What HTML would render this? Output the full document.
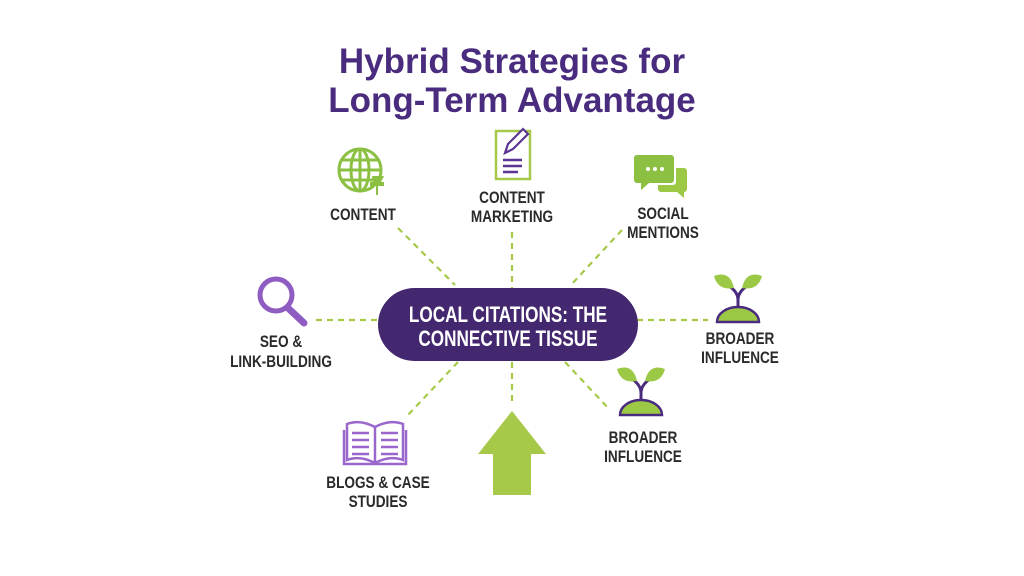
<!DOCTYPE html>
<html><head><meta charset="utf-8"><style>
body{margin:0;width:1024px;height:576px;background:#fff;overflow:hidden;font-family:"Liberation Sans",sans-serif}
svg{position:absolute;left:0;top:0}
</style></head><body>
<svg width="1024" height="576" viewBox="0 0 1024 576">
<g font-family="Liberation Sans, sans-serif" font-weight="bold" fill="#4a2c7e" font-size="35" text-anchor="middle">
<text x="512" y="73">Hybrid Strategies for</text>
<text x="512" y="112">Long-Term Advantage</text>
</g>
<g stroke="#a6c94a" stroke-width="2.2" stroke-dasharray="6,5" fill="none">
<line x1="398" y1="228" x2="455" y2="285"/>
<line x1="512" y1="232" x2="512" y2="288"/>
<line x1="622" y1="230" x2="570" y2="286"/>
<line x1="316" y1="320" x2="378" y2="320"/>
<line x1="637" y1="320" x2="708" y2="320"/>
<line x1="458" y1="362" x2="406" y2="417"/>
<line x1="512" y1="362" x2="512" y2="402"/>
<line x1="565" y1="362" x2="610" y2="410"/>
</g>
<rect x="378" y="288" width="260" height="73" rx="36.5" fill="#44286f"/>
<g fill="#fff" font-family="Liberation Sans, sans-serif" font-weight="bold" font-size="22" text-anchor="middle">
<text transform="translate(508 322) scale(.78 1)">LOCAL CITATIONS: THE</text>
<text transform="translate(508 346) scale(.78 1)">CONNECTIVE TISSUE</text>
</g>
<g fill="#2a2a2a" font-family="Liberation Sans, sans-serif" font-weight="bold" font-size="17" text-anchor="middle">
<text transform="translate(363 220) scale(.8 1)">CONTENT</text>
<text transform="translate(512 203) scale(.8 1)">CONTENT</text><text transform="translate(512 222) scale(.8 1)">MARKETING</text>
<text transform="translate(663 219) scale(.8 1)">SOCIAL</text><text transform="translate(663 238) scale(.8 1)">MENTIONS</text>
<text transform="translate(281 347) scale(.8 1)">SEO &amp;</text><text transform="translate(281 367) scale(.8 1)">LINK-BUILDING</text>
<text transform="translate(740 344) scale(.8 1)">BROADER</text><text transform="translate(740 363) scale(.8 1)">INFLUENCE</text>
<text transform="translate(643 443) scale(.8 1)">BROADER</text><text transform="translate(643 462) scale(.8 1)">INFLUENCE</text>
<text transform="translate(378 488) scale(.8 1)">BLOGS &amp; CASE</text><text transform="translate(378 507) scale(.8 1)">STUDIES</text>
</g>
<!-- globe -->
<g stroke="#8cc043" stroke-width="3" fill="none">
<circle cx="360" cy="170" r="21"/>
<ellipse cx="360" cy="170" rx="9" ry="21"/>
<line x1="339" y1="170" x2="381" y2="170"/><line x1="360" y1="149" x2="360" y2="191"/>
<line x1="342" y1="160" x2="378" y2="160"/><line x1="342" y1="180" x2="378" y2="180"/>
</g>
<path d="M372 176 h12 l-3 6 h3 v4 h-6 v9 h-2 v-9 h-6 v-4 h3 z" fill="#8cc043"/>
<!-- doc -->
<rect x="496" y="131" width="34" height="48" fill="#fff" stroke="#a6c94a" stroke-width="2.5"/>
<g stroke="#5b3591" stroke-width="2.5"><line x1="503" y1="160" x2="522" y2="160"/><line x1="503" y1="166" x2="522" y2="166"/><line x1="503" y1="172" x2="518" y2="172"/></g>
<path d="M505 153 l3-9 l15-15 l5 5 l-15 15 z" fill="#fff" stroke="#5b3591" stroke-width="2.2"/>
<!-- chat -->
<path d="M637 155 h34 a3 3 0 0 1 3 3 v22 a3 3 0 0 1-3 3 h-22 l-8 7 v-7 h-4 a3 3 0 0 1-3-3 v-22 a3 3 0 0 1 3-3z" fill="#8cc043"/>
<path d="M676 168 h8 a3 3 0 0 1 3 3 v18 a3 3 0 0 1-3 3 v6 l-7-6 h-16 a3 3 0 0 1-3-3 v-4 h15 a3 3 0 0 0 3-3z" fill="#9cc945"/>
<g fill="#fff"><circle cx="648" cy="169" r="2"/><circle cx="655" cy="169" r="2"/><circle cx="662" cy="169" r="2"/></g>
<!-- magnifier -->
<circle cx="276" cy="295" r="16" fill="none" stroke="#8f5cc2" stroke-width="5"/>
<line x1="288" y1="308" x2="304" y2="323" stroke="#8f5cc2" stroke-width="7" stroke-linecap="round"/>
<!-- plants -->
<g id="p">
<path d="M717 322 a21 15 0 0 1 42 0 z" fill="#9cc945" stroke="#4a2c7e" stroke-width="2.5"/>
<path d="M738 308 v-8 q0-8 -9-14 M738 300 q0-8 9-14" fill="none" stroke="#4a2c7e" stroke-width="3"/>
<path d="M714 276 q16-6 20 12 q-16 3 -20-12z" fill="#9cc945"/>
<path d="M762 276 q-16-6 -20 12 q16 3 20-12z" fill="#9cc945"/>
</g>
<use href="#p" transform="translate(-97 93)"/>
<!-- book -->
<g fill="none" stroke="#9966cc" stroke-width="2.5">
<path d="M375 427 q-15-8-28-3 v36 q13-5 28 3 q15-8 28-3 v-36 q-13-5-28 3z"/>
<path d="M375 427 v36"/>
<path d="M344 430 v34 h62 v-34"/>
<path d="M352 433 h17 M352 440 h17 M352 447 h17 M352 454 h17 M381 433 h17 M381 440 h17 M381 447 h17 M381 454 h17"/>
</g>
<!-- arrow -->
<path d="M512 411 l34 43 h-15 v41 h-38 v-41 h-15 z" fill="#a6c94a"/>
</svg>
</body></html>
